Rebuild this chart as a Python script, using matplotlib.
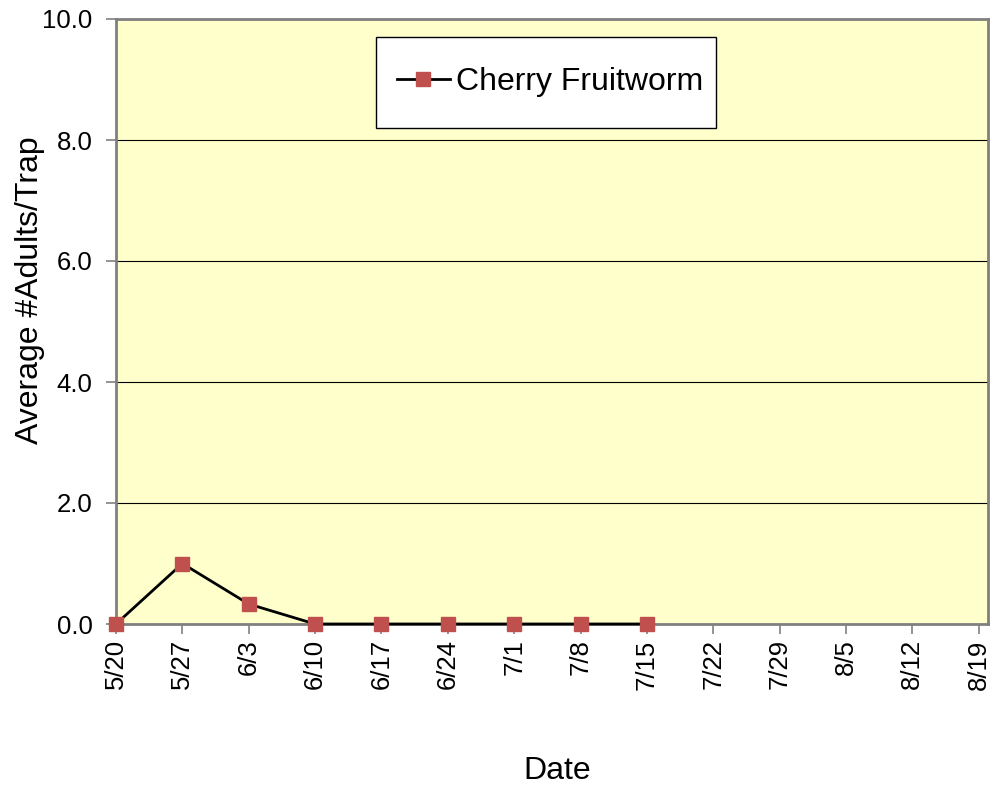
import matplotlib
matplotlib.use("Agg")
import matplotlib.pyplot as plt
from matplotlib.patches import Rectangle

plt.rcParams['font.family'] = ['Liberation Sans', 'DejaVu Sans']

# weekly trap dates
dates = ['5/20', '5/27', '6/3', '6/10', '6/17', '6/24', '7/1', '7/8',
         '7/15', '7/22', '7/29', '8/5', '8/12', '8/19']
fruitworm = [0.0, 1.0, 0.33, 0.0, 0.0, 0.0, 0.0, 0.0, 0.0]

y_ticks = [0, 2, 4, 6, 8, 10]

W, H = 998, 791
fig = plt.figure(figsize=(W / 100, H / 100), dpi=100)
ax = fig.add_axes([116 / W, 1 - 624 / H, (988 - 116) / W, (624 - 19) / H])
ax.set_facecolor('#FFFFCC')

x_all = list(range(len(dates)))
ax.plot(x_all[:len(fruitworm)], fruitworm, color='black', linewidth=2,
        marker='s', markersize=10.5, markerfacecolor='#C0504D',
        markeredgecolor='#C0504D', label='Cherry Fruitworm', clip_on=False, zorder=5)

ax.set_xlim(0, 13.14)
ax.set_ylim(0, 10)
ax.set_xticks(x_all)
ax.set_xticklabels(dates, rotation=90)
ax.set_yticks(y_ticks)
ax.set_yticklabels([f'{v:.1f}' for v in y_ticks])
ax.tick_params(axis='both', labelsize=18.5, length=7, width=1.2, color='#808080', direction='out')
ax.tick_params(axis='x', pad=4)
ax.tick_params(axis='y', pad=10)

for v in y_ticks[1:-1]:
    ax.axhline(v, color='black', linewidth=0.8, zorder=1)

for s in ax.spines.values():
    s.set_color('#808080')
    s.set_linewidth(2)

fig.text(30 / W, 1 - 290 / H, 'Average #Adults/Trap', fontsize=23,
         rotation=90, ha='center', va='center')
fig.text(557 / W, 1 - 771 / H, 'Date', fontsize=23, ha='center', va='center')

# legend box drawn separately so its size matches
box = Rectangle((376 / W, 1 - 128 / H), (716 - 376) / W, (128 - 37) / H,
                transform=fig.transFigure, facecolor='white', edgecolor='black',
                linewidth=1, zorder=10)
fig.patches.append(box)
leg = fig.legend(loc='center left', bbox_to_anchor=(397 / W, 1 - 82 / H),
                 fontsize=23, frameon=False, borderpad=0, borderaxespad=0,
                 handlelength=1.65, handletextpad=0.2)
leg.set_zorder(11)

fig.savefig('out.png', dpi=100)
